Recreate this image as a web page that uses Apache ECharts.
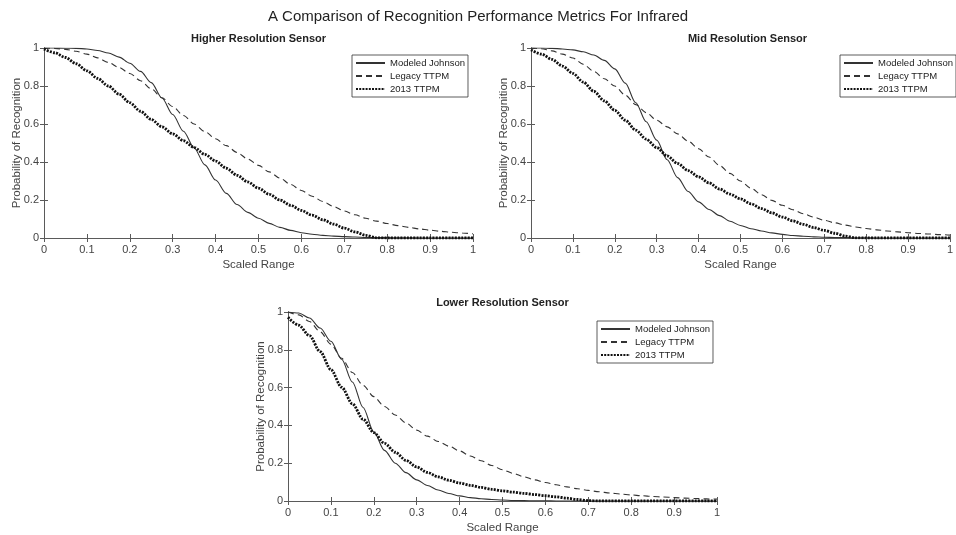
<!DOCTYPE html>
<html>
<head>
<meta charset="utf-8">
<script src="https://cdn.jsdelivr.net/npm/echarts@6/dist/echarts.min.js"></script>
<style>html,body{margin:0;padding:0;background:#fff;}#chart{width:956px;height:535px;}</style>
</head>
<body>
<div id="chart"></div>
<script>
const mainTitle = 'A Comparison of Recognition Performance Metrics For Infrared';
const panelTitles = ['Higher Resolution Sensor', 'Mid Resolution Sensor', 'Lower Resolution Sensor'];
const seriesNames = ['Modeled Johnson', 'Legacy TTPM', '2013 TTPM'];

const xs = [0,0.025,0.05,0.075,0.1,0.125,0.15,0.175,0.2,0.225,0.25,0.275,0.3,0.325,0.35,0.375,0.4,0.425,0.45,0.475,0.5,0.525,0.55,0.575,0.6,0.625,0.65,0.675,0.7,0.725,0.75,0.775,0.8,0.825,0.85,0.875,0.9,0.925,0.95,0.975,1.0];

const higherJohnson = [1.000,1.000,0.999,0.998,0.995,0.987,0.974,0.952,0.920,0.877,0.818,0.737,0.650,0.562,0.474,0.385,0.305,0.235,0.176,0.135,0.104,0.077,0.056,0.040,0.028,0.020,0.014,0.010,0.007,0.005,0.003,0.002,0.002,0.001,0.001,0,0,0,0,0,0];
const higherLegacy  = [1.000,0.998,0.993,0.983,0.968,0.948,0.924,0.897,0.866,0.828,0.785,0.738,0.692,0.645,0.600,0.560,0.522,0.486,0.450,0.416,0.382,0.348,0.315,0.282,0.250,0.220,0.192,0.166,0.142,0.122,0.104,0.089,0.076,0.065,0.056,0.048,0.041,0.035,0.030,0.026,0.022];
const higher2013    = [0.995,0.975,0.950,0.917,0.880,0.840,0.800,0.757,0.712,0.667,0.624,0.585,0.548,0.512,0.476,0.440,0.405,0.367,0.330,0.295,0.262,0.230,0.200,0.172,0.145,0.120,0.096,0.073,0.052,0.032,0.014,0.001,0,0,0,0,0,0,0,0,0];

const midJohnson = [1.000,1.000,0.998,0.995,0.990,0.980,0.963,0.935,0.890,0.815,0.712,0.612,0.515,0.412,0.318,0.245,0.190,0.150,0.118,0.088,0.066,0.049,0.037,0.027,0.019,0.013,0.009,0.006,0.004,0.003,0.002,0.001,0.001,0,0,0,0,0,0,0,0];
const midLegacy  = [1.000,0.996,0.985,0.968,0.947,0.914,0.877,0.838,0.800,0.752,0.702,0.660,0.620,0.585,0.548,0.510,0.470,0.426,0.382,0.340,0.300,0.262,0.228,0.198,0.172,0.149,0.128,0.110,0.093,0.080,0.068,0.058,0.050,0.043,0.037,0.032,0.028,0.024,0.021,0.018,0.015];
const mid2013    = [0.990,0.968,0.940,0.905,0.866,0.820,0.772,0.722,0.672,0.620,0.568,0.520,0.476,0.432,0.392,0.355,0.322,0.290,0.258,0.231,0.206,0.180,0.155,0.132,0.110,0.090,0.072,0.055,0.040,0.025,0.010,0.001,0,0,0,0,0,0,0,0,0];

const lowerJohnson = [1.000,0.995,0.968,0.915,0.845,0.750,0.630,0.495,0.365,0.268,0.200,0.150,0.112,0.082,0.058,0.040,0.027,0.018,0.012,0.008,0.005,0.003,0.002,0.001,0.001,0,0,0,0,0,0,0,0,0,0,0,0,0,0,0,0];
const lowerLegacy  = [1.000,0.985,0.950,0.895,0.830,0.755,0.680,0.612,0.552,0.500,0.455,0.413,0.375,0.343,0.315,0.290,0.265,0.238,0.213,0.188,0.165,0.146,0.128,0.112,0.098,0.086,0.075,0.065,0.056,0.049,0.042,0.037,0.032,0.028,0.024,0.021,0.018,0.015,0.013,0.011,0.010];
const lower2013    = [0.972,0.930,0.875,0.790,0.695,0.602,0.515,0.433,0.362,0.305,0.258,0.215,0.180,0.151,0.128,0.110,0.095,0.083,0.072,0.062,0.054,0.047,0.040,0.034,0.028,0.022,0.015,0.008,0.002,0,0,0,0,0,0,0,0,0,0,0,0];

const panels = [
  [higherJohnson, higherLegacy, higher2013],
  [midJohnson, midLegacy, mid2013],
  [lowerJohnson, lowerLegacy, lower2013]
];

const FONT = '"Liberation Sans", Arial, Helvetica, sans-serif';
const AX = '#5a5a5a';
const TXT = '#444';

const grids = [
  {left: 44, top: 48, width: 429, height: 190},
  {left: 531, top: 48, width: 433, height: 190},
  {left: 288, top: 312, width: 429, height: 190}
];
const legendPos = [
  {left: 352, top: 55},
  {left: 840, top: 55},
  {left: 597, top: 321}
];

const lineStyles = [
  {color: '#333', width: 1.1, type: 'solid'},
  {color: '#333', width: 1.1, type: [6, 4]},
  {color: '#111', width: 2.8, type: [2, 1.2]}
];

const xAxes = [], yAxes = [], series = [], legends = [], titles = [];
titles.push({text: mainTitle, left: 'center', top: 9, padding: 0,
  textStyle: {fontFamily: FONT, fontSize: 15, fontWeight: 'normal', color: '#222'}});

grids.forEach((g, i) => {
  titles.push({text: panelTitles[i], left: g.left + g.width / 2, textAlign: 'center', padding: 0,
    top: g.top - 15, textStyle: {fontFamily: FONT, fontSize: 11, fontWeight: 'bold', color: '#222'}});
  const common = {type: 'value', gridIndex: i, min: 0, max: 1,
    axisLine: {show: true, lineStyle: {color: AX, width: 1}},
    axisTick: {show: true, inside: true, length: 4, lineStyle: {color: AX}},
    splitLine: {show: false}};
  xAxes.push(Object.assign({}, common, {position: 'bottom', interval: 0.1,
    name: 'Scaled Range', nameLocation: 'middle', nameGap: 21, nameMoveOverlap: false,
    nameTextStyle: {fontFamily: FONT, fontSize: 11.5, color: TXT},
    axisLabel: {fontFamily: FONT, fontSize: 11, color: TXT, margin: 6}}));
  xAxes.push(Object.assign({}, common, {position: 'top', interval: 0.1, axisLabel: {show: false}}));
  yAxes.push(Object.assign({}, common, {position: 'left', interval: 0.2,
    name: 'Probability of Recognition', nameLocation: 'middle', nameGap: 21, nameMoveOverlap: false,
    nameTextStyle: {fontFamily: FONT, fontSize: 11.5, color: TXT},
    axisLabel: {fontFamily: FONT, fontSize: 11, color: TXT, margin: 5}}));
  yAxes.push(Object.assign({}, common, {position: 'right', interval: 0.2, axisLabel: {show: false}}));

  panels[i].forEach((vals, k) => {
    series.push({
      name: seriesNames[k], type: 'line', xAxisIndex: 2 * i, yAxisIndex: 2 * i,
      data: xs.map((x, j) => [x, vals[j]]),
      showSymbol: false, symbol: 'none', smooth: 0.3, smoothMonotone: 'x',
      itemStyle: {color: lineStyles[k].color},
      lineStyle: lineStyles[k], z: 3 + k, silent: true, animation: false
    });
  });

  legends.push({
    left: legendPos[i].left, top: legendPos[i].top, orient: 'vertical',
    data: seriesNames, selectedMode: false,
    itemWidth: 29, itemHeight: 10, itemGap: 3,
    padding: [3, 3, 3, 3],
    itemStyle: {opacity: 0},
    borderColor: '#333', borderWidth: 0.8, backgroundColor: '#fff',
    textStyle: {fontFamily: FONT, fontSize: 9.5, color: '#222'}
  });
});

const chart = echarts.init(document.getElementById('chart'), null, {renderer: 'canvas'});
chart.setOption({
  animation: false,
  backgroundColor: '#fff',
  title: titles,
  grid: grids,
  xAxis: xAxes,
  yAxis: yAxes,
  legend: legends,
  series: series
});
</script>
</body>
</html>
